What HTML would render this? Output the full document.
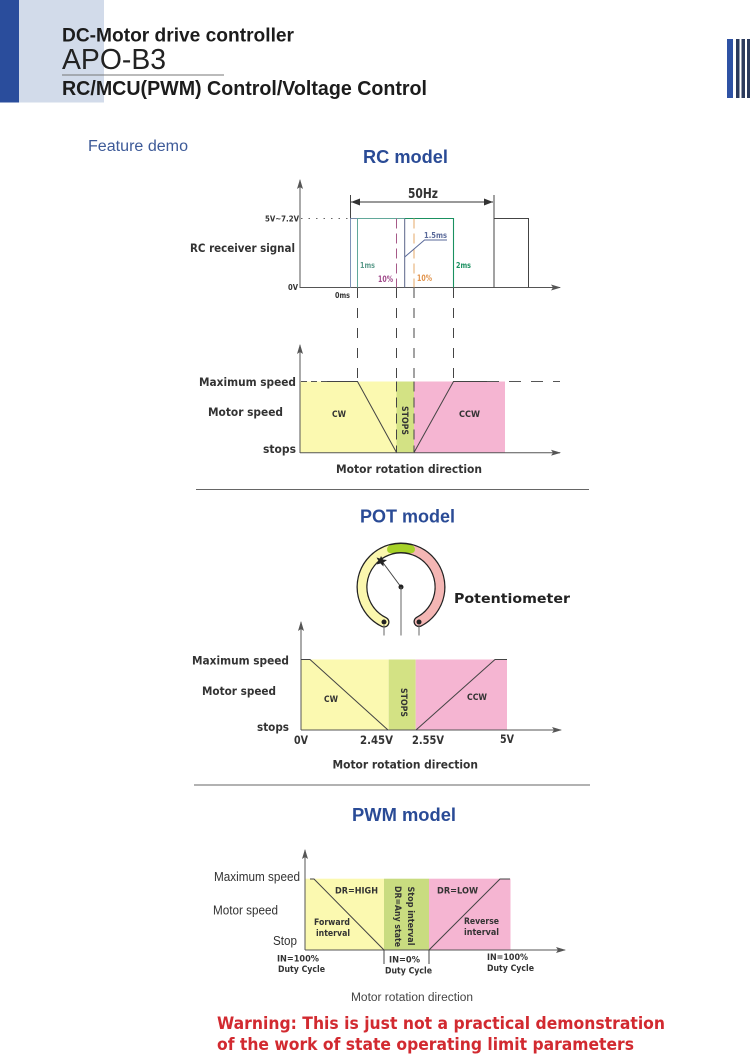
<!DOCTYPE html>
<html><head><meta charset="utf-8"><style>
html,body{margin:0;padding:0;background:#fff}
svg{display:block;filter:blur(0.35px)}
text{font-family:"DejaVu Sans",sans-serif;font-weight:bold;fill:#333}
.l{font-family:"Liberation Sans",sans-serif}
.r{font-family:"Liberation Sans",sans-serif;font-weight:normal}
</style></head><body>
<svg width="750" height="1063" viewBox="0 0 750 1063" xmlns="http://www.w3.org/2000/svg">
<defs>
<marker id="a" viewBox="0 0 10 6" refX="9" refY="3" markerWidth="10" markerHeight="6" orient="auto" markerUnits="userSpaceOnUse"><path d="M0 0L10 3L0 6L2 3Z" fill="#555"/></marker>
</defs>
<!-- header -->
<rect x="0" y="0" width="19" height="102.500" fill="#2a4d9c"/>
<rect x="19" y="0" width="85" height="102.500" fill="#d2dbea"/>
<rect x="727" y="39" width="6" height="59" fill="#2f52a4"/>
<rect x="736" y="39" width="3.500" height="59" fill="#2b3a5c"/>
<rect x="741.500" y="39" width="3.500" height="59" fill="#2b3a5c"/>
<rect x="747" y="39" width="3" height="59" fill="#2b3a5c"/>
<text class="l" x="62" y="41.500" font-size="19.500" textLength="232" lengthAdjust="spacingAndGlyphs" style="fill:#1c1c1c">DC-Motor drive controller</text>
<text class="r" x="62" y="69" font-size="29" textLength="104" lengthAdjust="spacingAndGlyphs" style="fill:#222">APO-B3</text>
<rect x="62" y="74.500" width="162" height="1" fill="#777"/>
<text class="l" x="62" y="95" font-size="20.500" textLength="365" lengthAdjust="spacingAndGlyphs" style="fill:#1c1c1c">RC/MCU(PWM) Control/Voltage Control</text>
<text class="r" x="88" y="151" font-size="15.500" textLength="100" lengthAdjust="spacingAndGlyphs" style="fill:#3d5a98">Feature demo</text>
<!-- titles -->
<text class="l" x="363" y="163" font-size="18" textLength="85" lengthAdjust="spacingAndGlyphs" style="fill:#2a4b96">RC model</text>
<text class="l" x="360" y="522.500" font-size="18" textLength="95" lengthAdjust="spacingAndGlyphs" style="fill:#2a4b96">POT model</text>
<text class="l" x="352" y="821" font-size="18" textLength="104" lengthAdjust="spacingAndGlyphs" style="fill:#2a4b96">PWM model</text>

<!-- RC signal -->
<line x1="300" y1="288" x2="300" y2="180" stroke="#555" stroke-width="1" marker-end="url(#a)"/>
<line x1="300" y1="287.500" x2="560" y2="287.500" stroke="#555" stroke-width="1" marker-end="url(#a)"/>
<line x1="301" y1="218.500" x2="350" y2="218.500" stroke="#666" stroke-width="1" stroke-dasharray="1.500 6"/>
<line x1="350.500" y1="195" x2="350.500" y2="219" stroke="#444"/>
<line x1="494" y1="195" x2="494" y2="219" stroke="#444"/>
<line x1="351" y1="202" x2="493" y2="202" stroke="#333"/>
<path d="M351 202L360 198.500V205.500Z M493 202L484 198.500V205.500Z" fill="#333"/>
<line x1="350.500" y1="218.500" x2="357" y2="218.500" stroke="#778aa8"/>
<line x1="350.500" y1="218.500" x2="350.500" y2="287.500" stroke="#8093b8"/>
<path d="M357.500 287.500V218.500H405" fill="none" stroke="#62a89a"/>
<path d="M405 218.500H453.500V287.500" fill="none" stroke="#1a9060" stroke-width="1.100"/>
<line x1="404.700" y1="218.500" x2="404.700" y2="287.500" stroke="#5a6488"/>
<line x1="396.500" y1="218.500" x2="396.500" y2="287.500" stroke="#a65a88" stroke-dasharray="10 5"/>
<line x1="414" y1="218.500" x2="414" y2="287.500" stroke="#e6a868" stroke-dasharray="10 5"/>
<path d="M404.700 257L424.500 240H447" fill="none" stroke="#5a6a9a"/>
<path d="M494 287.500V218.500H528.500V287.500" fill="none" stroke="#444"/>
<text x="265" y="221.500" font-size="7.500" textLength="34" lengthAdjust="spacingAndGlyphs">5V~7.2V</text>
<text x="190" y="252" font-size="11.500" textLength="105" lengthAdjust="spacingAndGlyphs">RC receiver signal</text>
<text x="288" y="290" font-size="7.500" textLength="10" lengthAdjust="spacingAndGlyphs">0V</text>
<text x="335" y="298" font-size="8" textLength="15" lengthAdjust="spacingAndGlyphs">0ms</text>
<text x="408" y="198" font-size="13" textLength="30" lengthAdjust="spacingAndGlyphs">50Hz</text>
<text x="360" y="268" font-size="8" textLength="15" lengthAdjust="spacingAndGlyphs" style="fill:#5a9a8a">1ms</text>
<text x="378" y="282" font-size="8.500" textLength="15" lengthAdjust="spacingAndGlyphs" style="fill:#a04a8a">10%</text>
<text x="417" y="281" font-size="8.500" textLength="15" lengthAdjust="spacingAndGlyphs" style="fill:#e0924a">10%</text>
<text x="424" y="238" font-size="8" textLength="23" lengthAdjust="spacingAndGlyphs" style="fill:#5a6a9a">1.5ms</text>
<text x="456" y="268" font-size="8" textLength="15" lengthAdjust="spacingAndGlyphs" style="fill:#1a9060">2ms</text>
<!-- connecting dashes -->
<g stroke="#444" stroke-dasharray="10 10">
<line x1="357.500" y1="288" x2="357.500" y2="381"/>
<line x1="396.500" y1="288" x2="396.500" y2="381"/>
<line x1="414" y1="288" x2="414" y2="381"/>
<line x1="453.500" y1="288" x2="453.500" y2="381"/>
</g>

<!-- RC speed -->
<rect x="300" y="381.500" width="96.500" height="71" fill="#fbf9b0"/>
<rect x="396.500" y="381.500" width="17.500" height="71" fill="#d3e284"/>
<rect x="414" y="381.500" width="91" height="71" fill="#f5b5d2"/>
<line x1="300" y1="453" x2="300" y2="345" stroke="#555" marker-end="url(#a)"/>
<line x1="300" y1="452.700" x2="560" y2="452.700" stroke="#555" marker-end="url(#a)"/>
<line x1="301" y1="381.500" x2="327" y2="381.500" stroke="#555" stroke-dasharray="6 4"/>
<path d="M327 381.500H357.500L396.500 452.500M414 452.500L453.500 381.500H487" fill="none" stroke="#444" stroke-width="1"/>
<line x1="487" y1="381.500" x2="560" y2="381.500" stroke="#555" stroke-dasharray="12 10"/>
<line x1="396.500" y1="381.500" x2="396.500" y2="452" stroke="#444" stroke-dasharray="10 6"/>
<line x1="414" y1="381.500" x2="414" y2="452" stroke="#444" stroke-dasharray="10 6"/>
<text x="199" y="386" font-size="11.500" textLength="97" lengthAdjust="spacingAndGlyphs">Maximum speed</text>
<text x="208" y="416" font-size="11.500" textLength="75" lengthAdjust="spacingAndGlyphs">Motor speed</text>
<text x="263" y="453" font-size="11.500" textLength="33" lengthAdjust="spacingAndGlyphs">stops</text>
<text x="332" y="417" font-size="9" textLength="14" lengthAdjust="spacingAndGlyphs">CW</text>
<text x="459" y="417" font-size="9" textLength="21" lengthAdjust="spacingAndGlyphs">CCW</text>
<text transform="translate(402,406) rotate(90)" font-size="9" textLength="29" lengthAdjust="spacingAndGlyphs">STOPS</text>
<text x="336" y="473" font-size="11.500" textLength="146" lengthAdjust="spacingAndGlyphs">Motor rotation direction</text>
<rect x="196" y="489" width="393" height="1" fill="#666"/>

<!-- Potentiometer -->
<path d="M384 622.100A39 39 0 1 1 419 621.600" fill="none" stroke="#222" stroke-width="11" stroke-linecap="round"/>
<path d="M384 622.100A39 39 0 0 1 390 549.600" fill="none" stroke="#fbf7ae" stroke-width="8.500" stroke-linecap="round"/>
<path d="M412 549.600A39 39 0 0 1 419 621.600" fill="none" stroke="#f4b6b4" stroke-width="8.500" stroke-linecap="round"/>
<path d="M391 549.300A39 39 0 0 1 411 549.300" fill="none" stroke="#a6d128" stroke-width="8" stroke-linecap="round"/>
<line x1="401" y1="587" x2="381" y2="560" stroke="#444"/>
<path d="M381 556L383 559.500L387 560L383.500 562.500L383.500 566.500L380.500 563.500L376.500 564.500L378.500 561L376.500 557.500L380 558.500Z" fill="#222"/>
<circle cx="401" cy="587" r="2.500" fill="#222"/>
<circle cx="384" cy="622" r="2.500" fill="#222"/>
<circle cx="419" cy="622" r="2.500" fill="#222"/>
<line x1="401" y1="587" x2="401" y2="635.500" stroke="#666" stroke-width="1"/>
<line x1="384" y1="625" x2="384" y2="635.500" stroke="#666"/>
<line x1="419" y1="625" x2="419" y2="635.500" stroke="#666"/>
<text x="454" y="603" font-size="13.500" textLength="116" lengthAdjust="spacingAndGlyphs" style="fill:#222">Potentiometer</text>

<!-- POT chart -->
<rect x="301" y="659.500" width="87.700" height="70.500" fill="#fbf9b0"/>
<rect x="388.700" y="659.500" width="27" height="70.500" fill="#d3e284"/>
<rect x="415.700" y="659.500" width="91.300" height="70.500" fill="#f5b5d2"/>
<line x1="301" y1="730" x2="301" y2="622" stroke="#555" marker-end="url(#a)"/>
<line x1="301" y1="730" x2="561" y2="730" stroke="#555" marker-end="url(#a)"/>
<path d="M301 659.500H310L388 730M416 730L495 659.500H507" fill="none" stroke="#444"/>
<text x="192" y="664.500" font-size="11.500" textLength="97" lengthAdjust="spacingAndGlyphs">Maximum speed</text>
<text x="202" y="695" font-size="11.500" textLength="74" lengthAdjust="spacingAndGlyphs">Motor speed</text>
<text x="257" y="731" font-size="11.500" textLength="32" lengthAdjust="spacingAndGlyphs">stops</text>
<text x="294" y="744" font-size="11.500" textLength="14" lengthAdjust="spacingAndGlyphs">0V</text>
<text x="360" y="744" font-size="11.500" textLength="33" lengthAdjust="spacingAndGlyphs">2.45V</text>
<text x="412" y="744" font-size="11.500" textLength="32" lengthAdjust="spacingAndGlyphs">2.55V</text>
<text x="500" y="743" font-size="11.500" textLength="14" lengthAdjust="spacingAndGlyphs">5V</text>
<text x="332.500" y="768.500" font-size="11.500" textLength="145.500" lengthAdjust="spacingAndGlyphs">Motor rotation direction</text>
<text x="324" y="702" font-size="9" textLength="14" lengthAdjust="spacingAndGlyphs">CW</text>
<text x="467" y="700" font-size="9" textLength="20" lengthAdjust="spacingAndGlyphs">CCW</text>
<text transform="translate(401,688) rotate(90)" font-size="9" textLength="29" lengthAdjust="spacingAndGlyphs">STOPS</text>
<rect x="194" y="784.500" width="396" height="1" fill="#666"/>

<!-- PWM chart -->
<rect x="305" y="878.700" width="79" height="71.300" fill="#fbf9b0"/>
<rect x="384" y="878.700" width="45" height="71.300" fill="#c9dc80"/>
<rect x="429" y="878.700" width="81.500" height="71.300" fill="#f5b5d2"/>
<line x1="305" y1="950" x2="305" y2="850" stroke="#555" marker-end="url(#a)"/>
<line x1="305" y1="950" x2="565" y2="950" stroke="#555" marker-end="url(#a)"/>
<path d="M310 879H314L384 950V964M429 964V950L500 879H510" fill="none" stroke="#444"/>
<text class="r" x="214" y="881" font-size="12.500" textLength="86" lengthAdjust="spacingAndGlyphs" style="fill:#333">Maximum speed</text>
<text class="r" x="213" y="914.500" font-size="12.500" textLength="65" lengthAdjust="spacingAndGlyphs" style="fill:#333">Motor speed</text>
<text class="r" x="273" y="945" font-size="12.500" textLength="24" lengthAdjust="spacingAndGlyphs" style="fill:#333">Stop</text>
<text x="335" y="893.500" font-size="9" textLength="43" lengthAdjust="spacingAndGlyphs">DR=HIGH</text>
<text x="437" y="893.500" font-size="9" textLength="41" lengthAdjust="spacingAndGlyphs">DR=LOW</text>
<text x="314" y="925" font-size="9" textLength="36" lengthAdjust="spacingAndGlyphs">Forward</text>
<text x="316" y="936" font-size="9" textLength="34" lengthAdjust="spacingAndGlyphs">interval</text>
<text x="464" y="924" font-size="9" textLength="35" lengthAdjust="spacingAndGlyphs">Reverse</text>
<text x="464" y="935" font-size="9" textLength="35" lengthAdjust="spacingAndGlyphs">interval</text>
<text transform="translate(408,886.500) rotate(90)" font-size="9" textLength="59" lengthAdjust="spacingAndGlyphs">Stop interval</text>
<text transform="translate(395,886) rotate(90)" font-size="9" textLength="61" lengthAdjust="spacingAndGlyphs">DR=Any state</text>
<text x="277" y="961.500" font-size="8.500" textLength="42" lengthAdjust="spacingAndGlyphs">IN=100%</text>
<text x="278" y="972" font-size="8.500" textLength="47" lengthAdjust="spacingAndGlyphs">Duty Cycle</text>
<text x="389" y="962.500" font-size="8.500" textLength="31" lengthAdjust="spacingAndGlyphs">IN=0%</text>
<text x="385" y="973.500" font-size="8.500" textLength="47" lengthAdjust="spacingAndGlyphs">Duty Cycle</text>
<text x="487" y="960" font-size="8.500" textLength="41" lengthAdjust="spacingAndGlyphs">IN=100%</text>
<text x="487" y="971" font-size="8.500" textLength="47" lengthAdjust="spacingAndGlyphs">Duty Cycle</text>
<text class="r" x="351" y="1001" font-size="11.500" textLength="122" lengthAdjust="spacingAndGlyphs" style="fill:#444">Motor rotation direction</text>

<!-- warning -->
<text x="217" y="1029" font-size="16.500" textLength="448" lengthAdjust="spacingAndGlyphs" style="fill:#d22a30">Warning: This is just not a practical demonstration</text>
<text x="217" y="1050" font-size="16.500" textLength="417" lengthAdjust="spacingAndGlyphs" style="fill:#d22a30">of the work of state operating limit parameters</text>
</svg>
</body></html>
